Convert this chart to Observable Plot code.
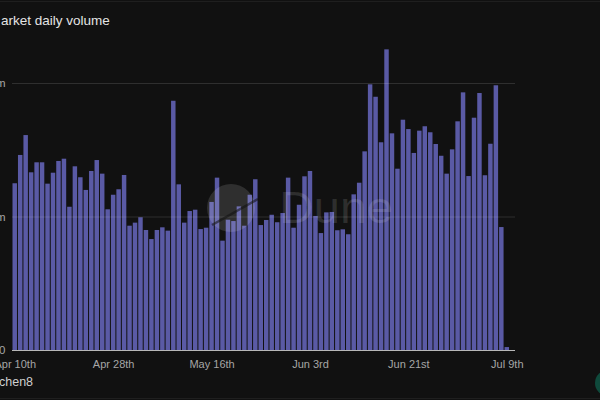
<!DOCTYPE html>
<html>
<head>
<meta charset="utf-8">
<script src="https://cdn.jsdelivr.net/npm/d3@7"></script>
<script src="https://cdn.jsdelivr.net/npm/@observablehq/plot@0.6"></script>
<style>
  html, body { margin: 0; padding: 0; background: #111111; }
  #card { position: relative; width: 600px; height: 400px; overflow: hidden; background: #111111;
          font-family: "Liberation Sans", Arial, sans-serif; }
  #title { position: absolute; left: 1px; top: 12.5px; font-size: 13.5px; color: #e4e4e4; white-space: nowrap; }
  #author { position: absolute; left: -1px; top: 374.5px; font-size: 12.5px; color: #cfcfcf; white-space: nowrap; }
  #chart { position: absolute; left: 0; top: 0; }
  #mark { position: absolute; left: 0; top: 0; pointer-events: none; }
  .hline { position: absolute; left: 0; width: 600px; height: 1px; background: #1f1f1f; }
</style>
</head>
<body>
<div id="card">
  <div class="hline" style="top:1px"></div>
  <div class="hline" style="top:398px"></div>
  <div id="title">arket daily volume</div>
  <div id="chart"></div>
  <svg id="mark" width="600" height="400">
    <circle cx="231" cy="208" r="24" fill="#ffffff" fill-opacity="0.13"></circle>
    <path d="M212,225 Q235,212 258,199" fill="none" stroke="#111111" stroke-opacity="0.55" stroke-width="2.5"></path>
    <text x="279" y="223" font-family="Liberation Sans, Arial, sans-serif" font-size="44" textLength="114" lengthAdjust="spacingAndGlyphs" fill="#ffffff" fill-opacity="0.12">Dune</text>
    <circle cx="608" cy="383" r="13" fill="#0f4a3c"></circle>
  </svg>
  <div id="author">chen8</div>
</div>
<script>
// ---- data ----
const startDay = new Date(Date.UTC(2024, 3, 10));
const endDay = new Date(Date.UTC(2024, 6, 11));
const days = d3.utcDay.range(startDay, endDay).map(d3.utcFormat("%Y-%m-%d"));

// daily volume (millions)
const volume = [
  12.49, 14.61, 16.10, 13.31, 14.06, 14.06, 12.46, 13.28, 14.16, 14.33,
  10.73, 13.76, 12.94, 11.99, 13.41, 14.23, 13.21, 10.54, 11.63, 12.04,
  13.11, 9.31, 9.54, 9.94, 8.99, 8.31, 8.99, 9.19, 8.94, 18.67,
  12.41, 9.54, 10.41, 10.51, 9.06, 9.16, 11.09, 12.91, 8.19, 9.76,
  9.66, 10.76, 9.31, 11.63, 12.79, 9.36, 9.74, 10.13, 9.57, 10.26,
  12.91, 9.16, 10.88, 13.01, 13.41, 10.04, 8.76, 10.31, 10.34, 8.97,
  9.04, 8.67, 11.66, 12.53, 14.88, 19.90, 18.97, 15.56, 22.52, 16.23,
  13.58, 17.25, 16.55, 14.76, 16.43, 16.76, 16.31, 15.43, 14.55, 13.21,
  15.03, 17.13, 19.30, 13.03, 17.40, 19.25, 13.09, 15.45, 19.83, 9.21,
  0.22
];

const xTickDays = ["2024-04-10", "2024-04-28", "2024-05-16", "2024-06-03", "2024-06-21", "2024-07-09"];
const xTickLabels = ["Apr 10th", "Apr 28th", "May 16th", "Jun 3rd", "Jun 21st", "Jul 9th"];
const yTicks = [0, 10, 20];
const yTickLabels = ["0", "10m", "20m"];

const data = days.map((d, i) => ({day: d, vol: volume[i]}));
const xLabel = new Map(xTickDays.map((d, i) => [d, xTickLabels[i]]));
const yLabel = new Map(yTicks.map((d, i) => [d, yTickLabels[i]]));

const chart = Plot.plot({
  width: 600,
  height: 375,
  marginLeft: 12,
  marginRight: 85,
  marginTop: 29.6,
  marginBottom: 25,
  style: {background: "transparent", color: "#a6a6a6", fontFamily: "Liberation Sans, Arial, sans-serif", fontSize: "11px", overflow: "visible"},
  x: {type: "band", domain: days, padding: 0, axis: null},
  y: {domain: [0, 24], axis: null},
  marks: [
    Plot.barY(data, {x: "day", y: "vol", fill: "#5a5aa5", insetLeft: 0.5, insetRight: 0.5}),
    Plot.ruleY([10, 20], {stroke: "#ffffff", strokeOpacity: 0.13, strokeWidth: 1}),
    Plot.ruleY([0], {stroke: "#b8b8b8", strokeWidth: 1.2}),
    Plot.axisX(xTickDays, {tickSize: 0, tickPadding: 10, tickFormat: d => xLabel.get(d), fontSize: 11, fill: "#a6a6a6", label: null}),
    Plot.axisY(yTicks, {tickSize: 0, tickPadding: 7, tickFormat: d => yLabel.get(d), fontSize: 11.5, fill: "#a6a6a6", label: null})
  ]
});
document.getElementById("chart").appendChild(chart);
</script>
</body>
</html>
